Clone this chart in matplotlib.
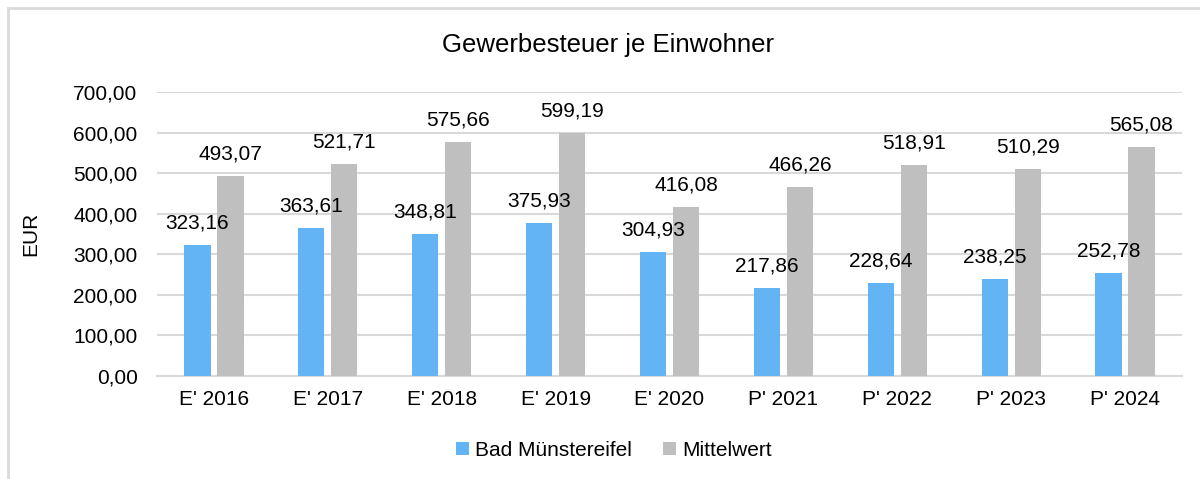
import numpy as np
import matplotlib.pyplot as plt
from matplotlib.patches import Rectangle

plt.rcParams['font.family'] = ['Liberation Sans', 'DejaVu Sans']

categories = ["E' 2016", "E' 2017", "E' 2018", "E' 2019", "E' 2020",
              "P' 2021", "P' 2022", "P' 2023", "P' 2024"]
bad_muenstereifel = [323.16, 363.61, 348.81, 375.93, 304.93, 217.86, 228.64, 238.25, 252.78]
mittelwert = [493.07, 521.71, 575.66, 599.19, 416.08, 466.26, 518.91, 510.29, 565.08]

def de(v):
    return f"{v:.2f}".replace('.', ',')

fig = plt.figure(figsize=(12, 4.79), dpi=100)
ax = fig.add_axes([157/1200, 1 - 376/479, (1182-157)/1200, (376-92)/479])

# chart border (cut off at right and bottom like the screenshot)
fig.patches.append(Rectangle((8/1200, -0.05), 1.1, 1 - 8/479 + 0.05,
                             transform=fig.transFigure, fill=False,
                             edgecolor='#D9D9D9', linewidth=2))

x = np.arange(len(categories))
w = 0.23
off = 0.145
b1 = ax.bar(x - off, bad_muenstereifel, w, color='#63B4F5', label='Bad Münstereifel', zorder=3)
b2 = ax.bar(x + off, mittelwert, w, color='#BFBFBF', label='Mittelwert', zorder=3)

for bars, vals in ((b1, bad_muenstereifel), (b2, mittelwert)):
    for r, v in zip(bars, vals):
        ax.annotate(de(v), (r.get_x() + r.get_width() / 2, v), xytext=(0, 9),
                    textcoords='offset points', ha='center', va='bottom', fontsize=15)

ax.set_xlim(-0.5, len(categories) - 0.5)
ax.set_ylim(0, 700)
ax.set_yticks(np.arange(0, 701, 100))
ax.set_yticklabels([de(v) for v in np.arange(0, 701, 100)], fontsize=15)
ax.set_xticks(x)
ax.set_xticklabels(categories, fontsize=15)
ax.tick_params(length=0, pad=14)
ax.tick_params(axis='x', pad=10)
ax.grid(axis='y', color='#D9D9D9', linewidth=1.5, zorder=0)
for s in ['top', 'right', 'left']:
    ax.spines[s].set_visible(False)
ax.spines['bottom'].set_color('#D9D9D9')
ax.spines['bottom'].set_linewidth(1.5)

ax.set_ylabel('EUR', fontsize=15)
ax.yaxis.set_label_coords(-0.114, 0.5)

fig.text(608/1200, 1 - 45/479, 'Gewerbesteuer je Einwohner', ha='center', va='center', fontsize=18.5)

fig.legend(handles=[b1, b2], loc='center', bbox_to_anchor=(614/1200, 1 - 450/479),
           ncol=2, frameon=False, fontsize=15, handlelength=0.6, handleheight=0.6,
           handletextpad=0.3, columnspacing=1.5)

fig.savefig('out.png', dpi=100)
